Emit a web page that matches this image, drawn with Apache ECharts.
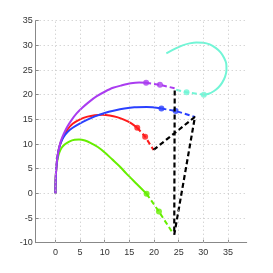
<!DOCTYPE html>
<html><head><meta charset="utf-8">
<script src="https://cdn.jsdelivr.net/npm/echarts@6/dist/echarts.min.js"></script>
<style>html,body{margin:0;padding:0;background:#fff}#c{width:273px;height:273px}</style>
</head><body><div id="c"></div>
<script>
// Tick labels
const xTicks = [0,5,10,15,20,25,30,35];
const yTicks = [-10,-5,0,5,10,15,20,25,30,35];

// Purple trajectory
const purpleSolid = [[0,0],[0.02,1.5],[0.08,3.5],[0.2,5.4],[0.4,7.3],[0.7,9],[1.1,10.6],[1.7,12.1],[2.4,13.5],[3.3,14.9],[4.3,16.2],[5.5,17.4],[6.9,18.6],[8.4,19.7],[10,20.6],[11.7,21.4],[13.5,21.9],[15.3,22.3],[17,22.45],[18.4,22.4]];
const purpleDash = [[18.4,22.4],[21.2,22.0],[24.2,21.3]];
const purpleMarks = [[18.4,22.4],[21.2,22.0]];

// Blue trajectory
const blueSolid = [[0,0],[0.02,1.5],[0.08,3.5],[0.2,5.4],[0.4,7.3],[0.7,9],[1.1,10.3],[1.7,11.5],[2.5,12.5],[3.5,13.3],[5,14.2],[6.5,14.95],[8,15.6],[10,16.3],[12,16.8],[14,17.2],[16,17.45],[18.5,17.5],[21.5,17.2]];
const blueDash = [[21.5,17.2],[24.4,16.7],[28.3,15.5]];
const blueMarks = [[21.5,17.2],[24.4,16.7]];

// Red trajectory
const redSolid = [[0,0],[0.02,1.5],[0.08,3.5],[0.2,5.4],[0.4,7.3],[0.7,9],[1.1,10.4],[1.7,11.7],[2.5,13.0],[3.5,14.1],[5,15.0],[6.5,15.55],[8,15.85],[9.5,15.95],[11,15.8],[12.5,15.45],[14,14.9],[15.4,14.2],[16.6,13.3]];
const redDash = [[16.6,13.3],[18.2,11.5],[19.9,8.8]];
const redMarks = [[16.6,13.3],[18.2,11.5]];

// Green trajectory
const greenSolid = [[0,0],[0.02,1.5],[0.08,3.5],[0.2,5.3],[0.45,7],[0.8,8.3],[1.3,9.3],[2,10.0],[2.9,10.55],[3.9,10.85],[4.8,10.9],[6,10.7],[7.2,10.2],[8.6,9.4],[10,8.3],[11.5,6.9],[13,5.5],[14.4,4.0],[16.5,1.9],[18.5,-0.1]];
const greenDash = [[18.5,-0.1],[21.0,-3.7],[23.9,-8.2]];
const greenMarks = [[18.5,-0.1],[21.0,-3.7]];

// Cyan trajectory
const cyanDash = [[24.5,21.0],[26.6,20.5],[30.1,20.0]];
const cyanSolid = [[30.1,20.0],[31.1,20.2],[32.1,20.7],[33.0,21.4],[33.8,22.4],[34.4,23.6],[34.7,25],[34.65,26.3],[34.2,27.5],[33.5,28.6],[32.5,29.5],[31.3,30.2],[30,30.55],[28.6,30.6],[27.2,30.4],[25.8,30.0],[24.2,29.3],[22.5,28.4]];
const cyanMarks = [[26.6,20.5],[30.1,20.0]];

// Black dashed connector
const blackDash = [[19.9,8.8],[28.3,15.5],[24.1,-8.4],[24.2,21.3]];

const C = {purple:'#aa3cf0', blue:'#2a40ff', red:'#ff1a1a', green:'#66ee00', cyan:'#72f5d6'};

function solid(d,c){return {type:'line',data:d,showSymbol:false,smooth:0.3,lineStyle:{color:c,width:2},silent:true,animation:false};}
function dash(d,c){return {type:'line',data:d,showSymbol:false,lineStyle:{color:c,width:2,type:[5,3]},silent:true,animation:false};}
function marks(d,c){return {type:'scatter',data:d,symbol:'circle',symbolSize:6,itemStyle:{color:c},silent:true,animation:false};}

const gridStyle = {color:'#c4c4c4',type:[1,3],width:1};
const series = [
  {type:'line',data:[],silent:true,markLine:{silent:true,symbol:'none',label:{show:false},lineStyle:gridStyle,animation:false,data:xTicks.map(v=>({xAxis:v}))}},
  solid(redSolid,C.red), dash(redDash,C.red), marks(redMarks,C.red),
  solid(greenSolid,C.green), dash(greenDash,C.green), marks(greenMarks,C.green),
  solid(blueSolid,C.blue), dash(blueDash,C.blue),
  solid(purpleSolid,C.purple), dash(purpleDash,C.purple), marks(purpleMarks,C.purple),
  dash(cyanDash,C.cyan), solid(cyanSolid,C.cyan), marks(cyanMarks,C.cyan),
  {type:'line',data:blackDash,showSymbol:false,lineStyle:{color:'#000',width:2.2,type:[5,3]},silent:true,animation:false},
  marks(blueMarks,C.blue)
];

const labelStyle = {color:'#333',fontSize:9,fontFamily:'Liberation Sans, Arial, sans-serif'};
const chart = echarts.init(document.getElementById('c'),null,{renderer:'canvas'});
chart.setOption({
  animation:false,
  grid:{left:35.7,top:20.7,width:211,height:222,containLabel:false},
  xAxis:{type:'value',min:-4,max:38.8,
    axisLine:{show:true,onZero:false,lineStyle:{color:'#888',width:1}},
    axisTick:{show:true,inside:true,length:3,customValues:xTicks,lineStyle:{color:'#888'}},
    axisLabel:Object.assign({margin:5,customValues:xTicks},labelStyle),
    splitLine:{show:false}},
  yAxis:{type:'value',min:-10,max:35,interval:5,
    axisLine:{show:true,onZero:false,lineStyle:{color:'#888',width:1}},
    axisTick:{show:true,inside:true,length:3,lineStyle:{color:'#888'}},
    axisLabel:Object.assign({margin:3,customValues:yTicks},labelStyle),
    splitLine:{show:true,lineStyle:gridStyle}},
  series:series
});
</script></body></html>
